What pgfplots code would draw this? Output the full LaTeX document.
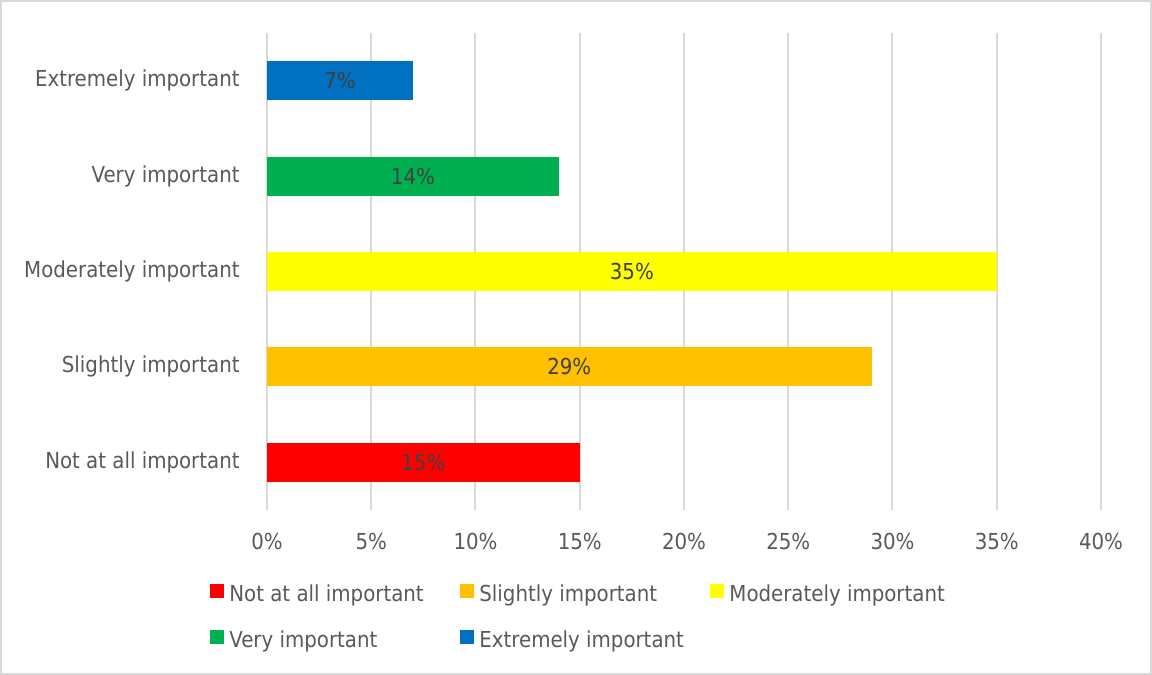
\documentclass[border=0pt]{standalone}
\usepackage{pgfplots}
\pgfplotsset{compat=1.18}
\usepackage{pgfplotstable}
\usepackage{fontspec}
\setmainfont{DejaVu Sans Condensed}
\definecolor{cRed}{HTML}{FF0000}
\definecolor{cOrange}{HTML}{FFC000}
\definecolor{cYellow}{HTML}{FFFF00}
\definecolor{cGreen}{HTML}{00B050}
\definecolor{cBlue}{HTML}{0070C0}
\definecolor{txt}{HTML}{595959}
\definecolor{lbl}{HTML}{404040}
\definecolor{grd}{HTML}{D9D9D9}
\pgfplotstableread{
y v
0 15
1 29
2 35
3 14
4 7
}\data
\begin{document}
\fontsize{11pt}{13pt}\selectfont
\begin{tikzpicture}
\begin{axis}[
  scale only axis,
  width=417pt, height=238.5pt,
  xmin=0, xmax=40, ymin=-0.5, ymax=4.5,
  xtick={0,5,...,40},
  xticklabel={\pgfmathprintnumber{\tick}\%},
  ytick={0,1,2,3,4},
  yticklabels={Not at all important,Slightly important,Moderately important,Very important,Extremely important},
  axis line style={draw=none},
  major tick length=0pt,
  tick style={draw=none},
  xmajorgrids,
  major grid style={draw=grd, line width=1pt},
  ticklabel style={font=\fontsize{11pt}{13pt}\selectfont, text=txt},
  /pgf/number format/assume math mode=true,
  xticklabel style={inner sep=0pt, anchor=north, yshift=-11.5pt},
  yticklabel style={inner sep=0pt, anchor=east, xshift=-13.5pt},
  legend columns=3,
  legend style={draw=none, fill=none, inner sep=0pt, column sep=0pt, row sep=12pt,
    at={(-0.0683,-0.1535)}, anchor=north west,
    nodes={inner xsep=2.5pt, inner ysep=0pt, text height=8pt, text depth=2.5pt, text=txt, font=\fontsize{11pt}{13pt}\selectfont}},
  legend image code/.code={\fill[#1] (0pt,-1pt) rectangle (7pt,6pt);},
]
\addplot[xbar, bar width=19.5pt, bar shift=0pt, fill=cRed, draw=none] coordinates {(15,0)};
\addlegendentry{\makebox[113pt][l]{Not at all important}}
\addplot[xbar, bar width=19.5pt, bar shift=0pt, fill=cOrange, draw=none] coordinates {(29,1)};
\addlegendentry{\makebox[113pt][l]{Slightly important}}
\addplot[xbar, bar width=19.5pt, bar shift=0pt, fill=cYellow, draw=none] coordinates {(35,2)};
\addlegendentry{\makebox[113pt][l]{Moderately important}}
\addplot[xbar, bar width=19.5pt, bar shift=0pt, fill=cGreen, draw=none] coordinates {(14,3)};
\addlegendentry{\makebox[113pt][l]{Very important}}
\addplot[xbar, bar width=19.5pt, bar shift=0pt, fill=cBlue, draw=none] coordinates {(7,4)};
\addlegendentry{\makebox[113pt][l]{Extremely important}}
\addplot[draw=none, mark=none, forget plot,
  nodes near coords={\pgfmathprintnumber{\pgfplotspointmeta}\%},
  point meta=explicit,
  every node near coord/.style={anchor=center, inner sep=0pt, text=lbl, font=\fontsize{11pt}{13pt}\selectfont, /pgf/number format/assume math mode=true}]
  table[x expr=\thisrow{v}/2, y=y, meta=v] {\data};
\end{axis}
\draw[grd, line width=1pt] (-133pt,-82pt) rectangle (442pt,254.5pt);
\path[use as bounding box] (-133.5pt,-82.5pt) rectangle (442.5pt,255pt);
\end{tikzpicture}
\end{document}
